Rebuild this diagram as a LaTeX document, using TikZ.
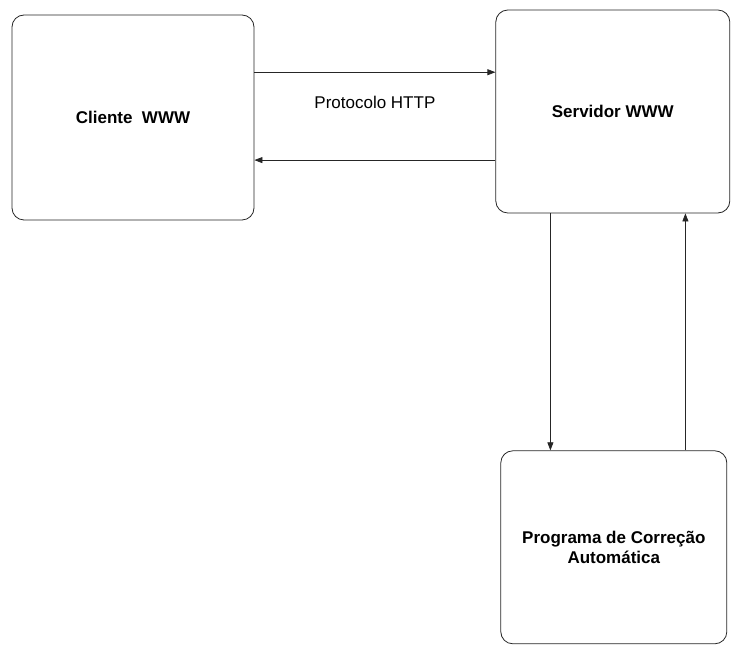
\documentclass[tikz,border=0pt]{standalone}
\usepackage{fontspec}
\setmainfont{Liberation Sans}
\usetikzlibrary{arrows.meta,positioning,calc}
\tikzset{
  hostbox/.style={
    rectangle, rounded corners=12pt, draw=black!85, line width=0.8pt,
    align=center, font=\fontsize{17}{20}\selectfont\bfseries},
  arrowline/.style={-{Triangle[length=8pt,width=6pt]}, line width=0.7pt, draw=black!85}
}
\begin{document}
\begin{tikzpicture}[x=1pt,y=1pt]
    \useasboundingbox (0,0) rectangle (731,645);

    % ---- client and server ------------------------------------
    \node[hostbox, minimum width=242pt, minimum height=205pt] (cliente) at (133,527.5) {Cliente\ \ WWW};
    \node[hostbox, minimum width=234pt, minimum height=203pt,
          right=241pt of cliente, yshift=6pt] (servidor) {Servidor WWW};

    % ---- HTTP connectors ---------------------------------------
    \coordinate (req) at ($(cliente.north east)!0.28!(cliente.south east)$);
    \coordinate (resp) at ($(cliente.north east)!0.707!(cliente.south east)$);
    \draw[arrowline] (req) -- (servidor.west |- req);
    \draw[arrowline] (servidor.west |- resp) -- (resp);
    \node[font=\fontsize{17}{20}\selectfont] (http)
      at ($(cliente.east)!0.5!(servidor.west)+(0,12)$) {Protocolo HTTP};

    % ---- correction program ------------------------------------
    \node[hostbox, minimum width=226pt, minimum height=193pt,
          below=237pt of servidor.south west, anchor=north west, xshift=5pt] (programa)
          {Programa de Correção\\Automática};

    \coordinate (down) at ([xshift=55pt]servidor.south west);
    \coordinate (up)   at ([xshift=190pt]servidor.south west);
    \draw[arrowline] (down) -- (down |- programa.north);
    \draw[arrowline] (up |- programa.north) -- (up);

\end{tikzpicture}
\end{document}
